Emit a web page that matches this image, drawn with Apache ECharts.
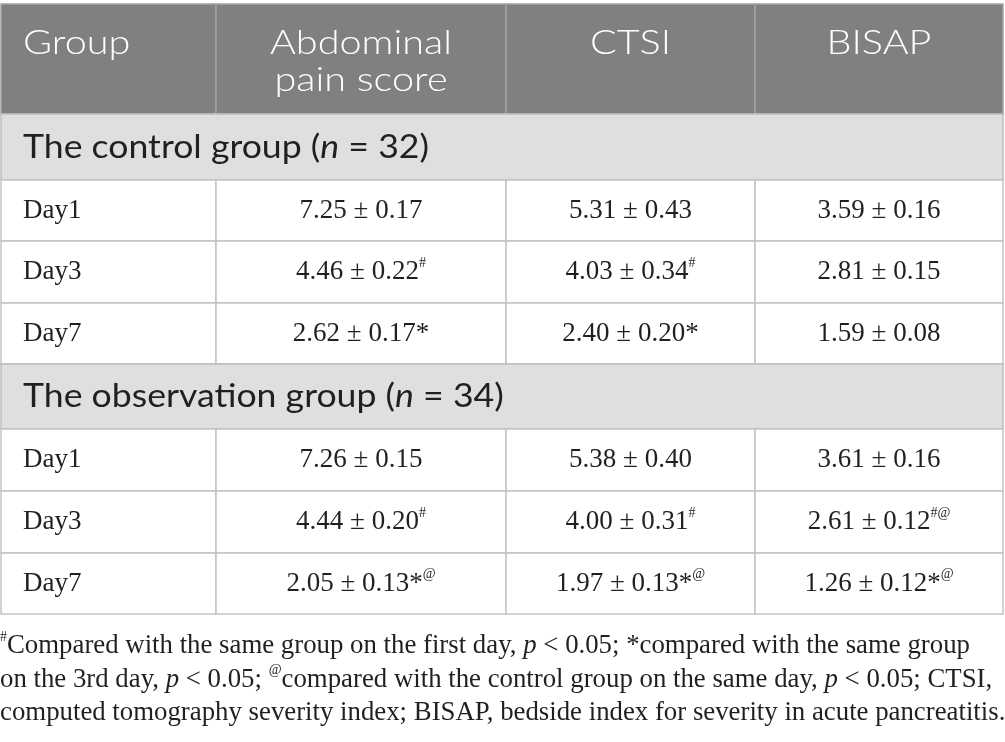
<!DOCTYPE html>
<html>
<head>
<meta charset="utf-8">
<script src="https://cdn.jsdelivr.net/npm/echarts@6/dist/echarts.min.js"></script>
<style>html,body{margin:0;padding:0;background:#fff;}#c{width:1005px;height:742px;}</style>
</head>
<body>
<div id="c"></div>
<script>
// ---- data ----
const columns = ['Group', 'Abdominal\npain score', 'CTSI', 'BISAP'];
const groups = ['The control group', 'The observation group'];
const groupN = [32, 34];
const days = ['Day1', 'Day3', 'Day7'];
const painMean = [[7.25, 4.46, 2.62], [7.26, 4.44, 2.05]];
const painSD   = [[0.17, 0.22, 0.17], [0.15, 0.20, 0.13]];
const painMark = [['', '#', '*'], ['', '#', '*@']];
const ctsiMean = [[5.31, 4.03, 2.40], [5.38, 4.00, 1.97]];
const ctsiSD   = [[0.43, 0.34, 0.20], [0.40, 0.31, 0.13]];
const ctsiMark = [['', '#', '*'], ['', '#', '*@']];
const bisapMean = [[3.59, 2.81, 1.59], [3.61, 2.61, 1.26]];
const bisapSD   = [[0.16, 0.15, 0.08], [0.16, 0.12, 0.12]];
const bisapMark = [['', '', ''], ['', '#@', '*@']];
const footnotes = [
  '{sup|#}Compared with the same group on the first day, {i|p} < 0.05; *compared with the same group',
  'on the 3rd day, {i|p} < 0.05; {sup|@}compared with the control group on the same day, {i|p} < 0.05; CTSI,',
  'computed tomography severity index; BISAP, bedside index for severity in acute pancreatitis.'
];

// ---- layout (positions / styles) ----
const colEdges = [1, 216, 506, 755, 1003];
const rowEdges = [4, 114, 180, 241, 303, 364, 429, 491, 553, 614];
const SANS = 'Lato';
const SERIF = 'Liberation Serif';
const INK = '#231f20';
const VAL_FS = 27;

function fmtMark(m) {
  let s = '';
  for (const ch of m) {
    if (ch === '*') s += '*';
    else s += '{sup|' + ch + '}';
  }
  return s;
}
function fmtVal(mean, sd, mark) {
  return mean.toFixed(2) + ' ± ' + sd.toFixed(2) + fmtMark(mark);
}

const cells = [];
columns.forEach((t, c) => cells.push({ value: [c, c + 1, 0], kind: 'head', text: t }));
groups.forEach((g, gi) => {
  const rg = 1 + gi * 4;
  cells.push({ value: [0, 4, rg], kind: 'group', text: g + ' ({i|n} = ' + groupN[gi] + ')' });
  days.forEach((d, di) => {
    const r = rg + 1 + di;
    cells.push({ value: [0, 1, r], kind: 'day', text: d });
    cells.push({ value: [1, 2, r], kind: 'val', text: fmtVal(painMean[gi][di], painSD[gi][di], painMark[gi][di]) });
    cells.push({ value: [2, 3, r], kind: 'val', text: fmtVal(ctsiMean[gi][di], ctsiSD[gi][di], ctsiMark[gi][di]) });
    cells.push({ value: [3, 4, r], kind: 'val', text: fmtVal(bisapMean[gi][di], bisapSD[gi][di], bisapMark[gi][di]) });
  });
});

const serifRich = {
  sup: { fontFamily: SERIF, fontSize: 14, verticalAlign: 'top', lineHeight: 32, fill: INK },
  i: { fontFamily: SERIF, fontSize: VAL_FS, fontStyle: 'italic', lineHeight: 32, fill: INK }
};
const sansRich = {
  i: { fontFamily: SANS, fontSize: 33, fontStyle: 'italic', fill: INK }
};

function renderItem(params, api) {
  const c0 = api.value(0), c1 = api.value(1), r = api.value(2);
  const cell = cells[params.dataIndex];
  const p0 = api.coord([colEdges[c0], rowEdges[r]]);
  const p1 = api.coord([colEdges[c1], rowEdges[r + 1]]);
  const x = p0[0], y = p0[1], w = p1[0] - p0[0], h = p1[1] - p0[1];
  let fill = '#ffffff', stroke = '#c3c3c3';
  let tx, ty, sx = 1, textStyle;
  if (cell.kind === 'head') {
    fill = '#7f807f'; stroke = '#a3a3a3';
    const left = c0 === 0;
    tx = left ? x + 22 : x + w / 2; ty = y + 21; sx = 1.2;
    textStyle = {
      text: cell.text, x: 0, y: 0,
      align: left ? 'left' : 'center', verticalAlign: 'top',
      fontFamily: SANS, fontSize: 33, fontWeight: 300, lineHeight: 37, fill: '#ffffff'
    };
  } else if (cell.kind === 'group') {
    fill = '#e0dfe0'; stroke = '#bdbdbd';
    tx = x + 22; ty = y + h / 2; sx = 1.08;
    textStyle = {
      text: cell.text, x: 0, y: 0,
      align: 'left', verticalAlign: 'middle',
      fontFamily: SANS, fontSize: 33, fill: INK, rich: sansRich
    };
  } else if (cell.kind === 'day') {
    tx = x + 22; ty = y + h / 2;
    textStyle = {
      text: cell.text, x: 0, y: 0,
      align: 'left', verticalAlign: 'middle',
      fontFamily: SERIF, fontSize: VAL_FS, lineHeight: 32, fill: INK
    };
  } else {
    tx = x + w / 2; ty = y + h / 2;
    textStyle = {
      text: cell.text, x: 0, y: 0,
      align: 'center', verticalAlign: 'middle',
      fontFamily: SERIF, fontSize: VAL_FS, lineHeight: 32, fill: INK, rich: serifRich
    };
  }
  return {
    type: 'group',
    children: [
      { type: 'rect', shape: { x: x, y: y, width: w, height: h }, style: { fill: fill, stroke: stroke, lineWidth: 1.5 } },
      { type: 'text', x: tx, y: ty, scaleX: sx, scaleY: 1, style: textStyle }
    ]
  };
}

const chart = echarts.init(document.getElementById('c'), null, { renderer: 'canvas' });
const noteRich = {
  sup: { fontFamily: SERIF, fontSize: 14, verticalAlign: 'top', lineHeight: 32, color: INK },
  i: { fontFamily: SERIF, fontSize: 26.8, fontStyle: 'italic', lineHeight: 32, color: INK }
};
chart.setOption({
  animation: false,
  grid: { left: 0, right: 0, top: 0, bottom: 0 },
  xAxis: { type: 'value', min: 0, max: 1005, show: false },
  yAxis: { type: 'value', min: 0, max: 742, inverse: true, show: false },
  series: [{
    type: 'custom',
    coordinateSystem: 'cartesian2d',
    renderItem: renderItem,
    data: cells,
    silent: true
  }],
  graphic: footnotes.map((t, i) => ({
    type: 'text',
    left: 0,
    top: 630 + i * 33.5,
    silent: true,
    style: {
      text: t, fontFamily: SERIF, fontSize: 26.8, lineHeight: 32,
      fill: INK, rich: noteRich
    }
  }))
});
</script>
</body>
</html>
